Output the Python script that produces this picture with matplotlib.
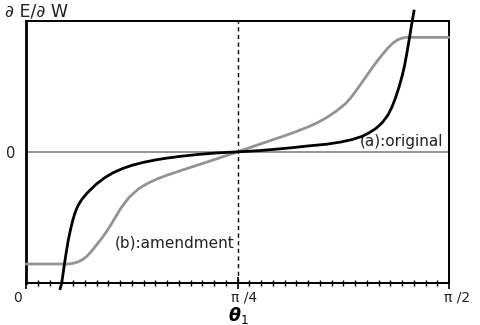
import numpy as np
import matplotlib
matplotlib.use("Agg")
import matplotlib.pyplot as plt
from matplotlib.transforms import ScaledTranslation

# Curve (a): original  (theta in degrees, normalized dE/dW)
orig_deg = [7.2, 7.6, 8.0, 8.5, 9.0, 9.5, 10.0, 10.5, 11.0, 11.6, 12.2, 13.0, 13.6, 15.0, 16.8,
            18.5, 20.7, 22.7, 25.0, 27.5, 30.0, 33.3, 36.9, 40.5, 45.0, 49.5, 53.1, 56.7, 60.0,
            63.9, 67.0, 69.4, 71.5, 73.0, 74.5, 75.8, 77.0, 77.9, 78.6, 79.4, 80.0, 80.5, 81.0,
            81.5, 82.0, 82.2, 82.6]
orig_val = [-1.053, -1.0, -0.90, -0.78, -0.672, -0.588, -0.515, -0.458, -0.415, -0.378, -0.348,
            -0.315, -0.293, -0.245, -0.196, -0.160, -0.125, -0.101, -0.080, -0.062, -0.0475,
            -0.0323, -0.019, -0.0086, 0.0, 0.009, 0.020, 0.032, 0.045, 0.058, 0.075, 0.094,
            0.118, 0.145, 0.180, 0.223, 0.280, 0.345, 0.410, 0.498, 0.575, 0.650, 0.745, 0.850,
            0.960, 1.0, 1.084]

# Curve (b): amendment
amend_deg = [0, 9, 10, 11, 12, 13, 14, 15, 16, 17, 18, 19, 20, 21, 22, 24, 26, 28, 30, 33, 36,
             39, 42, 45, 48, 51, 54, 57, 60, 62, 64, 66, 68, 69, 70, 71, 72, 73, 74, 75, 76,
             77, 78, 79, 80, 81, 90]
amend_val = [-0.855, -0.855, -0.850, -0.840, -0.822, -0.795, -0.755, -0.710, -0.665, -0.615,
             -0.560, -0.500, -0.440, -0.390, -0.345, -0.280, -0.238, -0.205, -0.178, -0.142,
             -0.107, -0.072, -0.036, 0.0, 0.037, 0.074, 0.110, 0.148, 0.190, 0.222, 0.262,
             0.310, 0.368, 0.408, 0.455, 0.505, 0.556, 0.607, 0.657, 0.705, 0.750, 0.792,
             0.827, 0.853, 0.867, 0.873, 0.873]

xtick_labels = ["0", "π /4", "π /2"]
label_a = "(a):original"
label_b = "(b):amendment"
ylabel_text = "∂ E/∂ W"
xlabel_text = r"$\boldsymbol{\theta}_{1}$"

W, H = 481, 325
fig = plt.figure(figsize=(W / 100, H / 100), dpi=100)
L, R, T, B = 26, 449, 20.7, 283
ax = fig.add_axes([L / W, 1 - B / H, (R - L) / W, (B - T) / H])

ax.set_xlim(0, np.pi / 2)
ax.set_ylim(-1, 1)

ax.axhline(0, color="#8c8c8c", lw=1.3, zorder=1)
ax.axvline(np.pi / 4, color="black", lw=1.0, ls=(0, (3, 2.5)), zorder=1)

ax.plot(np.deg2rad(amend_deg), amend_val, color="#939393", lw=2.0,
        solid_joinstyle="round", solid_capstyle="round", zorder=3, clip_on=False)
ax.plot(np.deg2rad(orig_deg), orig_val, color="black", lw=2.0,
        solid_joinstyle="round", solid_capstyle="butt", zorder=4, clip_on=False)

for s in ["top", "right"]:
    ax.spines[s].set_linewidth(1.4)
ax.spines["left"].set_linewidth(2.0)
ax.spines["bottom"].set_linewidth(1.4)

ax.set_xticks([0, np.pi / 4, np.pi / 2])
ax.set_xticklabels(xtick_labels)
ax.set_xticks(np.deg2rad(np.arange(0, 90.01, 2.5)), minor=True)
ax.tick_params(axis="x", which="major", direction="inout", length=9, width=1.2,
               labelsize=10, pad=1, colors="black", labelcolor="#222222")
ax.tick_params(axis="x", which="minor", direction="inout", length=5, width=1.0)
for lbl, dx in zip(ax.get_xticklabels(), [-8, 7, 8]):
    lbl.set_transform(lbl.get_transform() + ScaledTranslation(dx / 100, 0, fig.dpi_scale_trans))

ax.set_yticks([0])
ax.set_yticklabels(["0"])
ax.tick_params(axis="y", length=0, pad=8, labelsize=10.5, labelcolor="#222222")

ax.text(0.986, 0.538, label_a, transform=ax.transAxes, ha="right", va="center",
        fontsize=11, color="#222222")
ax.text(0.21, 0.152, label_b, transform=ax.transAxes, ha="left", va="center",
        fontsize=11, color="#222222", zorder=5)

fig.text(5 / W, 1 - 12 / H, ylabel_text, ha="left", va="center", fontsize=12.5, color="#222222")
fig.text(238 / W, 1 - 315 / H, xlabel_text, ha="center", va="center", fontsize=12.5, color="black")

fig.savefig("out.png", dpi=100)
